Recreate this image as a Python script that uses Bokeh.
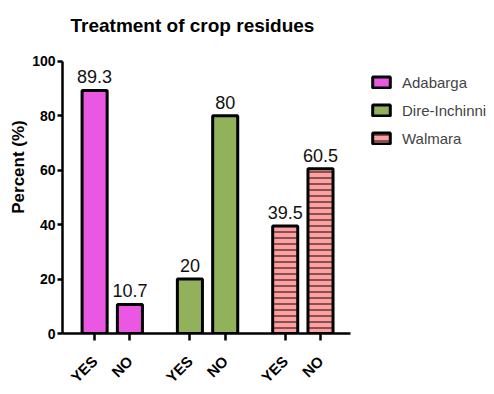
import math
from bokeh.plotting import figure
from bokeh.models import (ColumnDataSource, Range1d, FixedTicker, Legend, LegendItem,
                          CanvasTexture, Label)
from bokeh.core.properties import value
from bokeh.embed import file_html
from bokeh.resources import INLINE

# ---- data ----
title = "Treatment of crop residues"
answers = ["YES", "NO"]
regions = ["Adabarga", "Dire-Inchinni", "Walmara"]
adabarga = [89.3, 10.7]
dire_inchinni = [20, 80]
walmara = [39.5, 60.5]
y_ticks = [0, 20, 40, 60, 80, 100]

series = [adabarga, dire_inchinni, walmara]

FONT = "'Liberation Sans', Arial, sans-serif"

# layout (pixels)
LEFT, AXIS_RIGHT, Y100_PX, Y0_PX, H = 62, 350, 61, 334, 394
X0, X_AXIS_END = -9.1, 72.5
PX_PER_UNIT = (AXIS_RIGHT - LEFT) / (X_AXIS_END - X0)
FRAME_W = 494 - LEFT - 2
Y_TOP = 100 * Y0_PX / (Y0_PX - Y100_PX)

p = figure(width=494, height=H, output_backend="svg", toolbar_location=None,
           x_range=Range1d(X0, X0 + FRAME_W / PX_PER_UNIT), y_range=Range1d(0, Y_TOP),
           min_border_left=LEFT, min_border_right=2, min_border_top=0,
           min_border_bottom=H - Y0_PX)
p.outline_line_color = None
p.grid.visible = False
p.background_fill_color = "white"
p.border_fill_color = "white"


def checker(col):
    return CanvasTexture(code=f"""
const s = scale / 2;
ctx.fillStyle = "{col}";
ctx.fillRect(0, 0, s, s);
ctx.fillRect(s, s, s, s);
""")


styles = [
    dict(fill_color="#FF99CC", hatch_color="#CC00FF", hatch_pattern=value("chk"), hatch_scale=4,
         hatch_extra={"chk": checker("#CC00FF")}),
    dict(fill_color="#FFA0A0", hatch_color="#00C800", hatch_pattern=value("chk"), hatch_scale=8,
         hatch_extra={"chk": checker("#00C800")}),
    dict(fill_color="#FF9F9F", hatch_color="#5A3A3A", hatch_pattern="horizontal_line",
         hatch_scale=6, hatch_weight=1.5),
]

tick_pos = []
tick_labels = {}
legend_items = []
for gi, (name, vals, st) in enumerate(zip(regions, series, styles)):
    xs = [gi * 27 + j * 10 for j in range(len(vals))]
    for x, a in zip(xs, answers):
        tick_pos.append(x)
        tick_labels[x] = a
    src = ColumnDataSource(dict(x=xs, top=vals, lab=[f"{v:g}" for v in vals]))
    r = p.vbar(x="x", top="top", width=7.1, source=src, line_color="black",
               line_width=3, **st)
    p.text(x="x", y="top", text="lab", source=src, text_align="center",
           text_baseline="bottom", y_offset=-7, text_font_size="18px",
           text_font=value(FONT), text_color="#111111")
    legend_items.append(LegendItem(label=name, renderers=[r]))

# axes
for ax in (p.xaxis[0], p.yaxis[0]):
    ax.axis_line_width = 2.5
    ax.major_tick_line_width = 2.5
    ax.minor_tick_line_color = None
    ax.major_tick_in = 0
    ax.major_label_text_font = FONT
    ax.major_label_text_font_style = "bold"
    ax.major_label_text_color = "black"

p.yaxis.bounds = (0, 100)
p.yaxis.ticker = FixedTicker(ticks=y_ticks)
p.yaxis.major_tick_out = 5
p.yaxis.major_label_standoff = 2
p.yaxis.major_label_text_font_size = "14px"
p.yaxis.axis_label = "Percent (%)"
p.yaxis.axis_label_text_font = FONT
p.yaxis.axis_label_text_font_style = "bold"
p.yaxis.axis_label_text_font_size = "17px"
p.yaxis.axis_label_standoff = 1
p.yaxis.axis_label_text_color = "black"

p.xaxis.bounds = (X0, X_AXIS_END)
p.xaxis.ticker = FixedTicker(ticks=tick_pos)
p.xaxis.major_label_overrides = tick_labels
p.xaxis.major_tick_out = 7
p.xaxis.major_label_orientation = math.pi / 4
p.xaxis.major_label_text_font_size = "15px"
p.xaxis.major_label_standoff = 18

p.add_layout(Label(x=8, y=Y0_PX - 26, x_units="screen", y_units="screen", text=title,
                   text_font=FONT, text_font_size="19px", text_font_style="bold",
                   text_color="black", text_baseline="alphabetic"))

legend = Legend(items=legend_items, location=(308, 184), padding=0, margin=0,
                spacing=6, glyph_width=22, glyph_height=14, label_height=22,
                label_standoff=10, border_line_color=None, background_fill_alpha=0,
                label_text_font=FONT, label_text_font_size="15px")
p.add_layout(legend, "center")

open("out.html", "w").write(file_html(p, INLINE))
